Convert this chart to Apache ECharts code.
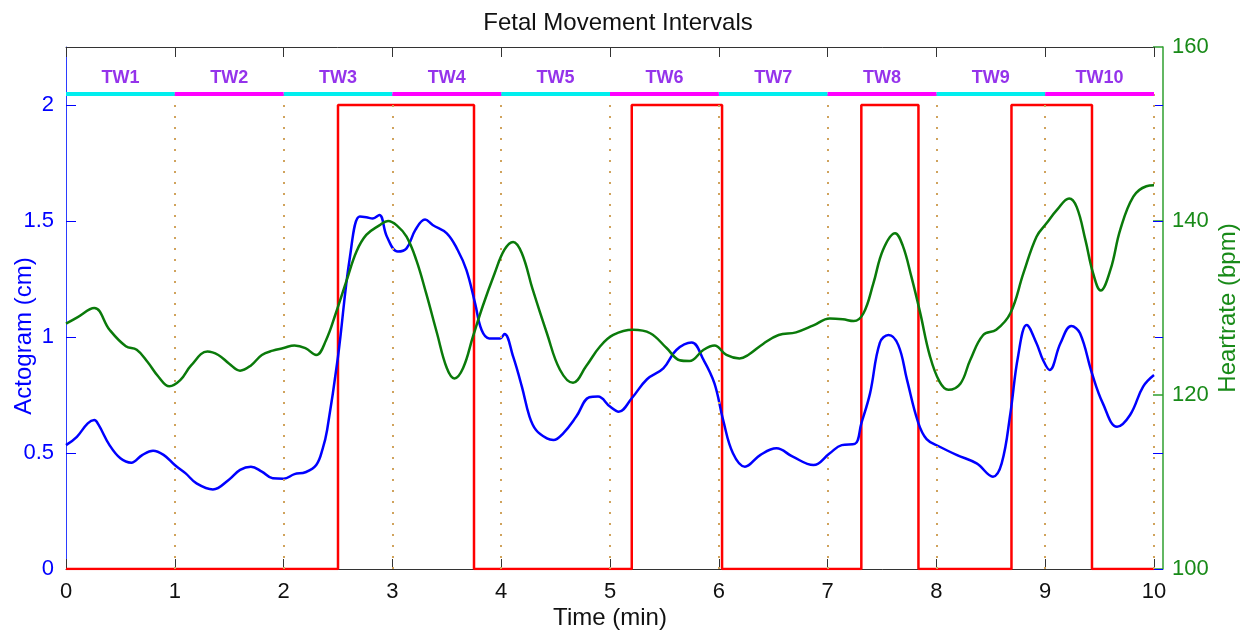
<!DOCTYPE html>
<html>
<head>
<meta charset="utf-8">
<title>Fetal Movement Intervals</title>
<script src="https://cdn.jsdelivr.net/npm/echarts/dist/echarts.min.js"></script>
<style>
  html, body { margin: 0; padding: 0; background: #fff; }
  #chart { width: 1259px; height: 637px; }
</style>
</head>
<body>
<div id="chart"></div>
<script>
// actogram (cm)
let actoTime = [0, 0.1, 0.2, 0.26, 0.3, 0.4, 0.5, 0.6, 0.7, 0.8, 0.9, 1.0, 1.1, 1.2, 1.35, 1.5, 1.6, 1.7, 1.8, 1.9,
  2.0, 2.1, 2.2, 2.3, 2.36, 2.4, 2.5, 2.61, 2.7, 2.76, 2.82, 2.88, 2.95, 3.05, 3.13, 3.21, 3.3, 3.37, 3.5, 3.6,
  3.68, 3.76, 3.82, 3.89, 3.99, 4.03, 4.11, 4.19, 4.26, 4.32, 4.42, 4.48, 4.57, 4.69, 4.81, 4.89, 5.0, 5.08, 5.2, 5.34,
  5.49, 5.61, 5.75, 5.86, 5.96, 6.04, 6.13, 6.24, 6.38, 6.53, 6.68, 6.87, 7.02, 7.13, 7.25, 7.31, 7.39, 7.48, 7.56, 7.65,
  7.73, 7.83, 7.91, 8.03, 8.19, 8.37, 8.52, 8.6, 8.68, 8.75, 8.83, 8.92, 8.98, 9.04, 9.14, 9.24, 9.32, 9.43, 9.53, 9.66,
  9.78, 9.9, 10.0];
let actoVals = [0.534, 0.570, 0.628, 0.642, 0.621, 0.534, 0.477, 0.458, 0.491, 0.510, 0.491, 0.448, 0.412, 0.369, 0.343, 0.386, 0.427, 0.441, 0.420, 0.391,
  0.389, 0.409, 0.417, 0.448, 0.520, 0.599, 0.915, 1.346, 1.519, 1.516, 1.511, 1.526, 1.432, 1.368, 1.382, 1.461, 1.507, 1.483, 1.447, 1.375,
  1.289, 1.145, 1.030, 0.994, 0.994, 1.013, 0.915, 0.786, 0.657, 0.599, 0.563, 0.556, 0.585, 0.657, 0.740, 0.743, 0.700, 0.678, 0.736, 0.818,
  0.865, 0.944, 0.976, 0.901, 0.800, 0.642, 0.499, 0.441, 0.491, 0.520, 0.484, 0.448, 0.499, 0.534, 0.539, 0.628, 0.757, 0.975, 1.009, 0.965,
  0.815, 0.635, 0.560, 0.527, 0.491, 0.455, 0.398, 0.455, 0.671, 0.915, 1.052, 0.973, 0.901, 0.858, 0.973, 1.047, 1.016, 0.843, 0.714, 0.613,
  0.664, 0.786, 0.836];

// heart rate (bpm), green curve
let hrTime = [0, 0.1, 0.26, 0.4, 0.55, 0.65, 0.75, 0.85, 0.95, 1.05, 1.15, 1.3, 1.4, 1.5, 1.6, 1.7, 1.8, 1.9, 2.0, 2.1,
  2.2, 2.3, 2.39, 2.48, 2.58, 2.67, 2.76, 2.88, 2.96, 3.04, 3.13, 3.22, 3.31, 3.41, 3.5, 3.57, 3.65, 3.74, 3.83, 3.94,
  4.03, 4.11, 4.19, 4.29, 4.42, 4.54, 4.66, 4.78, 4.91, 5.03, 5.21, 5.37, 5.52, 5.64, 5.73, 5.86, 5.96, 6.07, 6.19, 6.27,
  6.41, 6.55, 6.71, 6.87, 7.02, 7.14, 7.24, 7.33, 7.42, 7.51, 7.62, 7.69, 7.77, 7.85, 7.94, 8.03, 8.11, 8.22, 8.31, 8.43,
  8.55, 8.68, 8.8, 8.92, 9.01, 9.11, 9.22, 9.29, 9.37, 9.44, 9.51, 9.6, 9.69, 9.81, 9.93, 10.0];
let hrVals = [128.2, 128.9, 130.0, 127.5, 125.6, 125.2, 123.8, 122.1, 121.0, 121.7, 123.4, 125.0, 124.6, 123.6, 122.8, 123.4, 124.6, 125.1, 125.4, 125.7,
  125.4, 124.6, 126.3, 129.4, 133.2, 136.5, 138.4, 139.5, 140.0, 139.5, 138.2, 135.5, 131.7, 127.1, 123.1, 121.9, 123.1, 126.7, 130.2, 134.0,
  136.7, 137.6, 136.3, 132.1, 127.1, 122.9, 121.4, 123.3, 125.6, 126.9, 127.5, 127.1, 125.4, 124.0, 123.9, 125.2, 125.7, 124.6, 124.2, 124.6,
  125.9, 126.9, 127.2, 128.0, 128.8, 128.7, 128.5, 129.4, 132.8, 136.7, 138.6, 137.2, 133.6, 129.5, 124.5, 121.5, 120.6, 121.3, 124.0, 126.9,
  127.5, 129.4, 134.0, 138.2, 139.7, 141.3, 142.6, 141.6, 137.8, 134.0, 132.0, 134.4, 139.0, 142.8, 144.0, 144.1];

// detected movement intervals (min), red square wave
let moveStart = [2.5, 5.2, 7.31, 8.69];
let moveEnd = [3.75, 6.03, 7.835, 9.43];
let moveHigh = 2;

// time windows
let twNames = ['TW1', 'TW2', 'TW3', 'TW4', 'TW5', 'TW6', 'TW7', 'TW8', 'TW9', 'TW10'];
let twBounds = [0, 1, 2, 3, 4, 5, 6, 7, 8, 9, 10];
let twLevel = 2.05;
let twLabelLevel = 2.115;
let leftTicks = [0, 0.5, 1, 1.5, 2];

let font = 'Liberation Sans, Arial, Helvetica, sans-serif';

let actoData = actoTime.map((t, i) => [t, actoVals[i]]);
let hrData = hrTime.map((t, i) => [t, hrVals[i]]);

let moveData = [[0, 0]];
moveStart.forEach((s, i) => {
  moveData.push([s, 0], [s, moveHigh], [moveEnd[i], moveHigh], [moveEnd[i], 0]);
});
moveData.push([10, 0]);

// window bars, cyan / magenta alternately
function twSegments(odd) {
  let segs = [];
  for (let i = 0; i < twNames.length; i++) {
    if ((i % 2 === 1) === odd) {
      segs.push([{coord: [twBounds[i], twLevel]}, {coord: [twBounds[i + 1], twLevel]}]);
    }
  }
  return segs;
}

let dividers = twBounds.slice(1).map(t => [{coord: [t, 0]}, {coord: [t, twLevel]}]);
let twLabels = twNames.map((n, i) => ({name: n, value: [(twBounds[i] + twBounds[i + 1]) / 2, twLabelLevel]}));

let chart = echarts.init(document.getElementById('chart'));

let option = {
  animation: false,
  backgroundColor: '#fff',
  title: {
    text: 'Fetal Movement Intervals',
    left: 613,
    textAlign: 'center',
    top: 6,
    textStyle: {fontFamily: font, fontSize: 24, fontWeight: 'normal', color: '#111'}
  },
  grid: {left: 66, right: 105, top: 47, bottom: 68, outerBoundsMode: 'none', containLabel: false},
  xAxis: [{
    type: 'value', min: 0, max: 10, interval: 1,
    name: 'Time (min)', nameLocation: 'middle', nameGap: 37, nameMoveOverlap: false,
    nameTextStyle: {fontFamily: font, fontSize: 24, color: '#111'},
    axisLine: {onZero: false, lineStyle: {color: '#333', width: 1}},
    axisTick: {inside: true, length: 10, lineStyle: {color: '#333'}},
    axisLabel: {fontFamily: font, fontSize: 22, color: '#111', margin: 12},
    splitLine: {show: false}
  }, {
    type: 'value', position: 'top', min: 0, max: 10, interval: 1,
    axisLine: {onZero: false, lineStyle: {color: '#333', width: 1}},
    axisTick: {inside: true, length: 10, lineStyle: {color: '#333'}},
    axisLabel: {show: false},
    splitLine: {show: false}
  }],
  yAxis: [{
    type: 'value', position: 'left', min: 0, max: 2.25,
    name: 'Actogram (cm)', nameLocation: 'middle', nameGap: 30, nameMoveOverlap: false,
    nameTextStyle: {fontFamily: font, fontSize: 24, color: '#0000ff', padding: [0, 56, 0, 0]},
    axisLine: {show: true, onZero: false, lineStyle: {color: '#2b3dff', width: 1}},
    axisTick: {inside: true, length: 10, customValues: leftTicks, lineStyle: {color: '#0000ff'}},
    axisLabel: {fontFamily: font, fontSize: 22, color: '#0000ff', margin: 12, customValues: leftTicks},
    splitLine: {show: false}
  }, {
    type: 'value', position: 'right', offset: 9, min: 100, max: 160, interval: 20,
    name: 'Heartrate (bpm)', nameLocation: 'middle', nameGap: 53, nameMoveOverlap: false,
    nameTextStyle: {fontFamily: font, fontSize: 24, color: '#188a18'},
    axisLine: {show: true, onZero: false, lineStyle: {color: '#2f9f2f', width: 1.5}},
    axisTick: {inside: true, length: 10, lineStyle: {color: '#2f9f2f', width: 1.5}},
    axisLabel: {fontFamily: font, fontSize: 22, color: '#188a18', margin: 9},
    splitLine: {show: false}
  }, {
    type: 'value', position: 'right', offset: 9, min: 0, max: 2.25,
    axisLine: {show: false, onZero: false},
    axisTick: {show: true, inside: true, length: 10, customValues: leftTicks, lineStyle: {color: '#0000ff'}},
    axisLabel: {show: false, customValues: leftTicks},
    splitLine: {show: false}
  }],
  series: [{
    name: 'windows',
    type: 'scatter',
    xAxisIndex: 0, yAxisIndex: 0,
    symbolSize: 0,
    data: twLabels,
    label: {
      show: true, position: 'inside', formatter: '{b}',
      fontFamily: font, fontSize: 18, fontWeight: 'bold', color: '#7a00e6'
    },
    markLine: {
      silent: true, symbol: 'none', label: {show: false},
      lineStyle: {color: '#d0a35c', width: 2, type: [2, 9]},
      data: dividers
    },
    z: 1
  }, {
    name: 'twOdd',
    type: 'line', data: [],
    markLine: {
      silent: true, symbol: 'none', label: {show: false},
      lineStyle: {color: '#00eeee', width: 4, type: 'solid'},
      data: twSegments(false)
    }
  }, {
    name: 'twEven',
    type: 'line', data: [],
    markLine: {
      silent: true, symbol: 'none', label: {show: false},
      lineStyle: {color: '#ff00ff', width: 4, type: 'solid'},
      data: twSegments(true)
    }
  }, {
    name: 'movement',
    type: 'line',
    data: moveData,
    showSymbol: false,
    lineStyle: {color: '#ff0000', width: 2.5},
    z: 3
  }, {
    name: 'actogram',
    type: 'line',
    data: actoData,
    smooth: 0.4,
    showSymbol: false,
    lineStyle: {color: '#0000ff', width: 2.5},
    z: 4
  }, {
    name: 'heartrate',
    type: 'line',
    yAxisIndex: 1,
    data: hrData,
    smooth: 0.4,
    showSymbol: false,
    lineStyle: {color: '#0a7a0a', width: 2.5},
    z: 5
  }]
};

chart.setOption(option);
</script>
</body>
</html>
